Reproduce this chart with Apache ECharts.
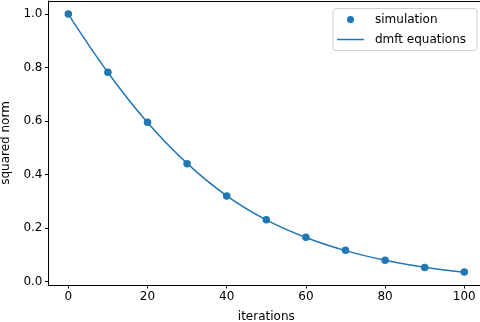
<!DOCTYPE html>
<html>
<head>
<meta charset="utf-8">
<script src="https://cdn.jsdelivr.net/npm/echarts@6/dist/echarts.min.js"></script>
<style>
  html, body { margin: 0; padding: 0; background: #fff; }
  #chart { width: 480px; height: 322px; }
</style>
</head>
<body>
<div id="chart"></div>
<script>
// iterations where the norm was recorded
const iterations = [0, 10, 20, 30, 40, 50, 60, 70, 80, 90, 100]
// squared norm from the simulation (dots)
const simulation = [1.0, 0.783, 0.596, 0.441, 0.320, 0.231, 0.166, 0.117, 0.080, 0.053, 0.036]
// squared norm from the dmft equations (line)
const dmft = [1.0, 0.782, 0.595, 0.442, 0.321, 0.231, 0.165, 0.116, 0.080, 0.054, 0.035]
const xTicks = [0, 20, 40, 60, 80, 100]
const yTicks = [0, 0.2, 0.4, 0.6, 0.8, 1.0]

const blue = '#1f77b4'
const font = 'DejaVu Sans'
// plain line for the legend, the tiny dots just keep the box 27x7
const lineIcon = 'path://M0,0L0.01,0L0.01,0.01Z M0,2.75L27,2.75L27,4.25L0,4.25Z M26.99,6.99L27,6.99L27,7Z'

let chart = echarts.init(document.getElementById('chart'))

let option = {
  animation: false,
  textStyle: {fontFamily: font},
  grid: {left: 48.5, top: 1, width: 435.6, height: 284, outerBoundsMode: 'none', containLabel: false},
  legend: {
    orient: 'vertical',
    left: 333,
    top: 8.5,
    padding: [4, 11, 4, 4],
    itemGap: 6,
    itemWidth: 27,
    itemHeight: 7,
    backgroundColor: '#fff',
    borderColor: '#d0d0d0',
    borderWidth: 1,
    borderRadius: 3,
    textStyle: {fontFamily: font, fontSize: 12, color: '#000', lineHeight: 14, padding: [0, 0, 0, 6]},
    data: [
      {name: 'simulation', icon: 'circle'},
      {name: 'dmft equations', icon: lineIcon}
    ]
  },
  xAxis: [
    {
      type: 'value',
      min: -5,
      max: 105,
      name: 'iterations',
      nameLocation: 'middle',
      nameGap: 26,
      nameTextStyle: {fontFamily: font, fontSize: 12, color: '#000'},
      splitLine: {show: false},
      axisLine: {show: true, onZero: false, lineStyle: {color: '#000', width: 1}},
      axisTick: {show: true, length: 3.5, lineStyle: {color: '#000'}, customValues: xTicks},
      axisLabel: {fontFamily: font, fontSize: 12, color: '#000', margin: 6, customValues: xTicks}
    },
    {
      type: 'value',
      position: 'top',
      min: -5,
      max: 105,
      splitLine: {show: false},
      axisLine: {show: true, onZero: false, lineStyle: {color: '#000', width: 1}},
      axisTick: {show: false},
      axisLabel: {show: false}
    }
  ],
  yAxis: {
    type: 'value',
    min: -0.0125,
    max: 1.049,
    name: 'squared norm',
    nameLocation: 'middle',
    nameGap: 37,
    nameTextStyle: {fontFamily: font, fontSize: 12, color: '#000'},
    splitLine: {show: false},
    axisLine: {show: true, onZero: false, lineStyle: {color: '#000', width: 1}},
    axisTick: {show: true, length: 3.5, lineStyle: {color: '#000'}, customValues: yTicks},
    axisLabel: {
      fontFamily: font, fontSize: 12, color: '#000', margin: 6, customValues: yTicks,
      formatter: v => v.toFixed(1)
    }
  },
  series: [
    {
      name: 'simulation',
      type: 'scatter',
      symbolSize: 7.5,
      itemStyle: {color: blue, opacity: 1},
      z: 3,
      data: iterations.map((x, i) => [x, simulation[i]])
    },
    {
      name: 'dmft equations',
      type: 'line',
      smooth: 0.4,
      symbol: 'none',
      lineStyle: {color: blue, width: 1.5},
      itemStyle: {color: blue},
      z: 2,
      data: iterations.map((x, i) => [x, dmft[i]])
    }
  ]
}

chart.setOption(option)
</script>
</body>
</html>
